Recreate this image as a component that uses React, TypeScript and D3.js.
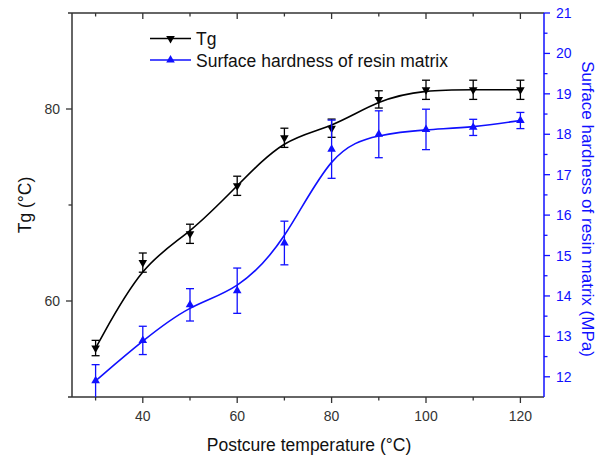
import React from "react";
import * as d3 from "d3";

const temps = [30, 40, 50, 60, 70, 80, 90, 100, 110, 120];
const tgValues = [55.1, 64.0, 67.0, 72.0, 77.0, 78.0, 81.0, 82.0, 82.0, 82.0];
const tgErrors = [0.8, 1.0, 1.0, 1.0, 1.0, 0.95, 0.9, 1.0, 1.0, 1.0];
const hardValues = [11.9, 12.9, 13.78, 14.13, 15.31, 17.63, 18.0, 18.12, 18.17, 18.34];
const hardErrors = [0.4, 0.35, 0.4, 0.56, 0.54, 0.72, 0.58, 0.5, 0.2, 0.2];
const xMajorTicks = [40, 60, 80, 100, 120];
const xMinorTicks = [30, 50, 70, 90, 110];
const leftMajorTicks = [60, 80];
const leftMinorTicks = [70];
const rightMajorTicks = [12, 13, 14, 15, 16, 17, 18, 19, 20, 21];
const rightMinorTicks = [11.5, 12.5, 13.5, 14.5, 15.5, 16.5, 17.5, 18.5, 19.5, 20.5];
const legendLabels = ["Tg", "Surface hardness of resin matrix"];

const W = 598;
const H = 456;
const L = 72;
const R = 544;
const T = 13;
const B = 397;
const FONT = "'Liberation Sans', Arial, Helvetica, sans-serif";
const BLUE = "#1010ff";
const AXIS = "#333";

export default function App() {
  const x = d3.scaleLinear().domain([25, 125]).range([L, R]);
  const yL = d3.scaleLinear().domain([50, 90]).range([B, T]);
  const yR = d3.scaleLinear().domain([11.5, 21]).range([B, T]);

  const tgLine = d3
    .line<number>()
    .x((_, i) => x(temps[i]))
    .y((d) => yL(d))
    .curve(d3.curveBasis);
  const hLine = d3
    .line<number>()
    .x((_, i) => x(temps[i]))
    .y((d) => yR(d))
    .curve(d3.curveBasis);

  const tri = d3.symbol().type(d3.symbolTriangle).size(32)();

  const errBars = (
    vals: number[],
    errs: number[],
    ys: (v: number) => number,
    color: string,
    key: string
  ) =>
    vals.map((v, i) => {
      const cx = x(temps[i]);
      const y1 = ys(v + errs[i]);
      const y2 = ys(v - errs[i]);
      return (
        <g key={key + i} stroke={color} strokeWidth={1.3}>
          <line x1={cx} x2={cx} y1={y1} y2={Math.min(y2, B + 8)} />
          <line x1={cx - 4} x2={cx + 4} y1={y1} y2={y1} />
          {y2 < B ? <line x1={cx - 4} x2={cx + 4} y1={y2} y2={y2} /> : null}
        </g>
      );
    });

  return (
    <svg
      width={W}
      height={H}
      style={{ position: "absolute", left: 0, top: 0, background: "#fff" }}
      fontFamily={FONT}
    >
      <rect x={0} y={0} width={W} height={H} fill="#fff" />

      {/* frame */}
      <line x1={L - 4} x2={R} y1={T} y2={T} stroke={AXIS} strokeWidth={1.5} />
      <line x1={L - 4} x2={R} y1={B} y2={B} stroke={AXIS} strokeWidth={1.5} />
      <line x1={L} x2={L} y1={T} y2={B} stroke={AXIS} strokeWidth={1.5} />

      {/* bottom + top ticks */}
      {xMajorTicks.map((t) => (
        <g key={"xm" + t} stroke={AXIS} strokeWidth={1.3}>
          <line x1={x(t)} x2={x(t)} y1={B} y2={B + 6} />
          <line x1={x(t)} x2={x(t)} y1={T} y2={T + 6} />
        </g>
      ))}
      {xMinorTicks.map((t) => (
        <g key={"xn" + t} stroke={AXIS} strokeWidth={1.3}>
          <line x1={x(t)} x2={x(t)} y1={B} y2={B + 3.5} />
          <line x1={x(t)} x2={x(t)} y1={T} y2={T + 3.5} />
        </g>
      ))}
      {xMajorTicks.map((t) => (
        <text key={"xl" + t} x={x(t)} y={421} textAnchor="middle" fontSize={14} fill="#333">
          {t}
        </text>
      ))}
      <text x={(L + R) / 2 + 1} y={451} textAnchor="middle" fontSize={17.5} fill="#111">
        Postcure temperature (°C)
      </text>

      {/* left axis */}
      {leftMajorTicks.map((t) => (
        <g key={"lm" + t}>
          <line x1={L - 6} x2={L} y1={yL(t)} y2={yL(t)} stroke={AXIS} strokeWidth={1.3} />
          <text x={L - 12} y={yL(t) + 5} textAnchor="end" fontSize={14} fill="#333">
            {t}
          </text>
        </g>
      ))}
      {leftMinorTicks.map((t) => (
        <line key={"ln" + t} x1={L - 3.5} x2={L} y1={yL(t)} y2={yL(t)} stroke={AXIS} strokeWidth={1.3} />
      ))}
      <text
        transform={`translate(31,${(T + B) / 2}) rotate(-90)`}
        textAnchor="middle"
        fontSize={17.5}
        fill="#111"
      >
        Tg (°C)
      </text>

      {/* right axis */}
      <line x1={R} x2={R} y1={T} y2={B} stroke={BLUE} strokeWidth={1.5} />
      {rightMajorTicks.map((t) => (
        <g key={"rm" + t}>
          <line x1={R} x2={R + 6} y1={yR(t)} y2={yR(t)} stroke={BLUE} strokeWidth={1.3} />
          <text x={R + 12} y={yR(t) + 5} textAnchor="start" fontSize={14} fill={BLUE}>
            {t}
          </text>
        </g>
      ))}
      {rightMinorTicks
        .filter((t) => yR(t) < B - 1)
        .map((t) => (
          <line key={"rn" + t} x1={R} x2={R + 3.5} y1={yR(t)} y2={yR(t)} stroke={BLUE} strokeWidth={1.3} />
        ))}
      <text
        transform={`translate(582,${(T + B) / 2 + 4}) rotate(90)`}
        textAnchor="middle"
        fontSize={17}
        fill={BLUE}
      >
        Surface hardness of resin matrix (MPa)
      </text>

      {/* data */}
      <g>
        <path d={tgLine(tgValues) || ""} fill="none" stroke="#000" strokeWidth={1.6} />
        {errBars(tgValues, tgErrors, yL, "#000", "te")}
        {tgValues.map((v, i) => (
          <path
            key={"tm" + i}
            d={tri || ""}
            transform={`translate(${x(temps[i])},${yL(v)}) rotate(180)`}
            fill="#000"
          />
        ))}
      </g>
      <g>
        <path d={hLine(hardValues) || ""} fill="none" stroke={BLUE} strokeWidth={1.6} />
        {errBars(hardValues, hardErrors, yR, BLUE, "he")}
        {hardValues.map((v, i) => (
          <path
            key={"hm" + i}
            d={tri || ""}
            transform={`translate(${x(temps[i])},${yR(v)})`}
            fill={BLUE}
          />
        ))}
      </g>

      {/* legend */}
      <g>
        <line x1={150} x2={191} y1={38.5} y2={38.5} stroke="#000" strokeWidth={1.6} />
        <path d={tri || ""} transform={`translate(170.5,38.5) rotate(180)`} fill="#000" />
        <text x={196} y={45} fontSize={17.5} fill="#111">
          {legendLabels[0]}
        </text>
        <line x1={150} x2={191} y1={60} y2={60} stroke={BLUE} strokeWidth={1.6} />
        <path d={tri || ""} transform={`translate(170.5,60)`} fill={BLUE} />
        <text x={196} y={66.5} fontSize={17.5} fill="#111">
          {legendLabels[1]}
        </text>
      </g>
    </svg>
  );
}
